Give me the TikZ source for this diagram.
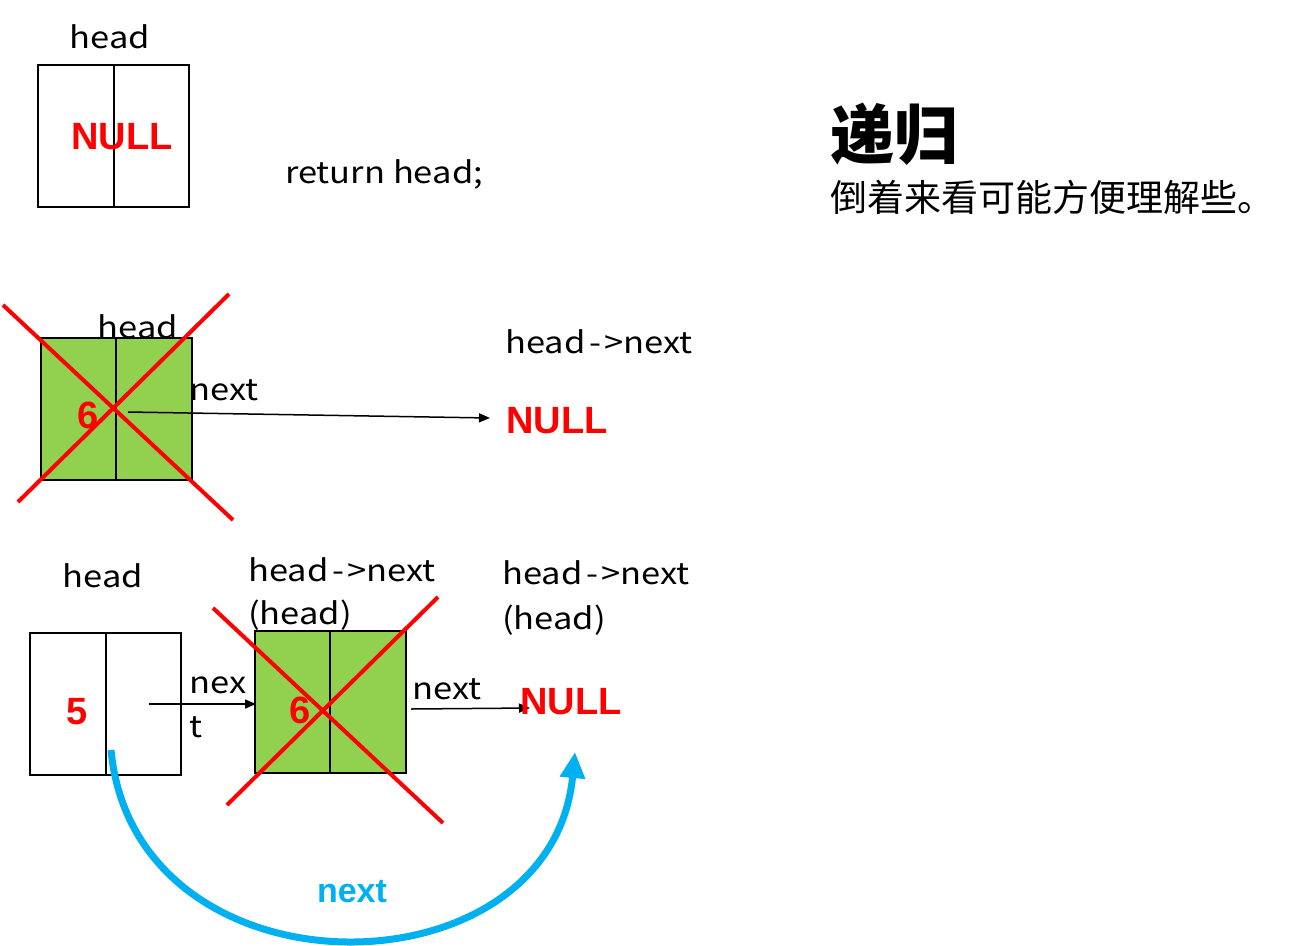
\documentclass[tikz,border=0pt]{standalone}
\usepackage{fontspec}
\setmainfont{Noto Sans CJK SC}
\newfontfamily\latf{Noto Sans CJK SC}[FakeStretch=1.15]
\newfontfamily\arialf{Liberation Sans}
\usetikzlibrary{arrows.meta}
\definecolor{cellgreen}{HTML}{92D050}
\definecolor{arcblue}{HTML}{00B0F0}
\newcommand{\hn}{head\kern4pt-\kern3pt>next}
\begin{document}
\begin{tikzpicture}[x=1pt,y=-1pt,
  lbl/.style={inner sep=0pt, anchor=base west, font=\latf\fontsize{30}{36}\selectfont},
  redb/.style={inner sep=0pt, anchor=base, text=red, font=\arialf\bfseries\fontsize{38}{38}\selectfont},
  cell/.style={draw, line width=2pt, minimum width=151pt, minimum height=142pt, inner sep=0pt},
  gcell/.style={cell, fill=cellgreen},
  cross/.style={draw=red, line width=4pt},
  arr/.style={-{Triangle[length=11pt,width=9pt]}, line width=1.5pt},
  bigarc/.style={draw=arcblue, line width=7pt, -{Triangle[length=26pt,width=24pt]}}
]
\useasboundingbox (0,0) rectangle (1303,945);

% ---- top section
\node[lbl, anchor=base] (h1) at (110,48) {head};
\node[cell] (b1) at (113.5,136) {};
\draw[line width=2pt] (b1.north) -- (b1.south);
\node[redb] (n1) at (122,149) {NULL};
\node[lbl] (ret) at (285,183) {return head;};

\node[inner sep=0pt, anchor=west, font=\bfseries\fontsize{64}{64}\selectfont] (title) at (830,134) {递归};
\node[inner sep=0pt, anchor=west, font=\fontsize{37}{37}\selectfont] (sub) at (830,197) {倒着来看可能方便理解些。};

% ---- middle section
\node[gcell] (b2) at (116,409) {};
\draw[line width=2pt] (b2.north) -- (b2.south);
\node[lbl, anchor=base] (h2) at (138,338) {head};
\node[redb] (six2) at (88,428) {6};
\node[lbl] (nx2) at (189,400) {next};
\node[lbl] (hn2) at (505,353) {\hn};
\node[redb, anchor=base west] (n2) at (506,433) {NULL};
\coordinate (a2s) at (128,412);
\coordinate (a2e) at (490,418);
\draw[arr] (a2s) -- (a2e);
\draw[cross] (3,305) -- (233,520);
\draw[cross] (18,502) -- (229,294);

% ---- bottom section
\node[lbl, anchor=base] (h3) at (103,587) {head};
\node[cell] (b3) at (105.5,703.5) {};
\draw[line width=2pt] (b3.north) -- (b3.south);
\node[redb] (five) at (77,724) {5};
\node[gcell] (b4) at (330,702) {};
\draw[line width=2pt] (b4.north) -- (b4.south);
\node[redb] (six4) at (300,723) {6};
\node[lbl] (nx3a) at (189,693) {nex};
\node[lbl] (nx3b) at (189,737) {t};
\coordinate (a3s) at (149,704);
\coordinate (a3e) at (256,704);
\draw[arr] (a3s) -- (a3e);

\node[lbl] (hn3) at (248,581) {\hn};
\node[lbl] (hd3) at (248,624) {(head)};
\draw[cross] (213,608) -- (443,823);
\draw[cross] (227,805) -- (438,597);

\node[lbl] (nx4) at (412,699) {next};
\coordinate (a4s) at (411,709);
\coordinate (a4e) at (530,708);
\draw[arr] (a4s) -- (a4e);
\node[redb, anchor=base west] (n3) at (520,714) {NULL};

\node[lbl] (hn4) at (502,584) {\hn};
\node[lbl] (hd4) at (502,629) {(head)};

\coordinate (c1) at (111,750);
\coordinate (c2) at (575,752);
\draw[bigarc] (c1) .. controls (135,1003) and (551,1000) .. (c2);
\node[inner sep=0pt, anchor=base, text=arcblue, font=\arialf\bfseries\fontsize{34}{34}\selectfont] (nxb) at (352,902) {next};
\end{tikzpicture}
\end{document}
